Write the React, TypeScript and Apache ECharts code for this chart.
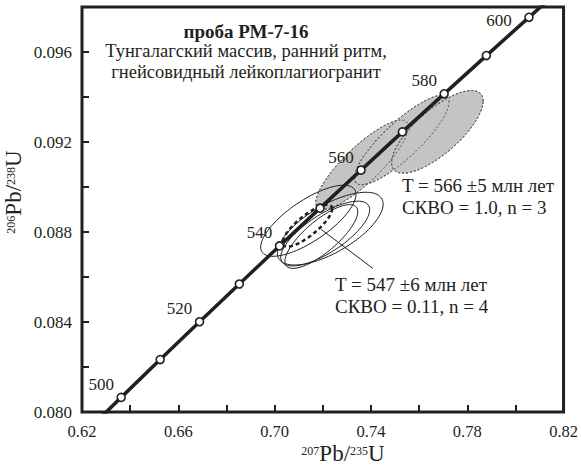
import React, { useEffect, useRef } from 'react';
import * as echarts from 'echarts';

// Concordia curve, points every 10 Ma
const concordiaAges = [490, 500, 510, 520, 530, 540, 550, 560, 570, 580, 590, 600, 610];
const concordiaX = [0.62024, 0.63628, 0.65247, 0.66883, 0.68535, 0.70203, 0.71887, 0.73588, 0.75306, 0.77041, 0.78794, 0.80563, 0.8235];
const concordiaY = [0.07897, 0.08065, 0.08233, 0.08401, 0.08569, 0.08738, 0.08906, 0.09075, 0.09245, 0.09414, 0.09584, 0.09754, 0.09925];
const labeledAges = [500, 520, 540, 560, 580, 600];

// error ellipses: [x, y, sigmaX, sigmaY, rho]
const greyEllipses = [
  [0.7363, 0.09099, 0.01918, 0.001985, 0.844],
  [0.7528, 0.09209, 0.01967, 0.001989, 0.848],
  [0.7676, 0.09245, 0.01901, 0.001838, 0.746],
];
const openEllipses = [
  [0.714, 0.0885, 0.01979, 0.00158, 0.74],
  [0.7231, 0.08815, 0.02198, 0.001617, 0.673],
  [0.721, 0.08793, 0.01847, 0.00144, 0.735],
  [0.7194, 0.0878, 0.01513, 0.001418, 0.78],
];
const meanEllipse = [[0.7136, 0.08828, 0.01027, 0.00093, 0.805]];

// leader line for the 547 Ma label
const leaderX = [0.74082, 0.71938];
const leaderY = [0.08638, 0.08811];

const xMin = 0.62, xMax = 0.82, xStep = 0.02;
const yMin = 0.08, yMax = 0.098, yStep = 0.002;

const titleLines = ['проба РМ-7-16', 'Тунгалагский массив, ранний ритм,', 'гнейсовидный лейкоплагиогранит'];
const age566 = ['T = 566 ±5 млн лет', 'СКВО = 1.0, n = 3'];
const age547 = ['T = 547 ±6 млн лет', 'СКВО = 0.11, n = 4'];

const SERIF = "'Liberation Serif', 'Times New Roman', serif";
const INK = '#231f20';

function ellipseRenderer(style: any) {
  return (params: any, api: any) => {
    const cx = api.value(0), cy = api.value(1), sx = api.value(2), sy = api.value(3), r = api.value(4);
    const pts: number[][] = [];
    const n = 90;
    for (let i = 0; i < n; i++) {
      const t = (i / n) * Math.PI * 2;
      const x = cx + sx * Math.cos(t);
      const y = cy + sy * (r * Math.cos(t) + Math.sqrt(1 - r * r) * Math.sin(t));
      pts.push(api.coord([x, y]));
    }
    return { type: 'polygon', shape: { points: pts }, style };
  };
}

function txt(x: number, y: number, text: string, size: number, align: string, bold = false) {
  return {
    type: 'text', x, y,
    style: {
      text, fontSize: size, fontWeight: bold ? 'bold' : 'normal', fontFamily: SERIF, fill: INK,
      align, verticalAlign: 'middle', textAlign: align, textVerticalAlign: 'middle',
    },
  };
}

export default function App() {
  const ref = useRef<HTMLDivElement>(null);
  useEffect(() => {
    if (!ref.current) return;
    const chart = echarts.init(ref.current, undefined, { renderer: 'svg' });
    const curve = concordiaAges.map((a, i) => [concordiaX[i], concordiaY[i]]);
    const markers = concordiaAges
      .map((a, i) => ({ a, v: [concordiaX[i], concordiaY[i]] }))
      .filter((d) => d.a >= 500 && d.a <= 600)
      .map((d) => ({
        value: d.v,
        label: {
          show: labeledAges.includes(d.a),
          formatter: String(d.a),
          offset: d.a === 600 ? [-30, 3] : [-20, -13],
        },
      }));
    const supRich = {
      sup: { fontSize: 12, fontFamily: SERIF, verticalAlign: 'top', fill: INK, color: INK, lineHeight: 20 },
      main: { fontSize: 23, fontFamily: SERIF, verticalAlign: 'bottom', fill: INK, color: INK, lineHeight: 20 },
    };
    const option: any = {
      animation: false,
      grid: { left: 82, right: 14, top: 7, bottom: 60, show: true, borderColor: INK, borderWidth: 3, backgroundColor: 'transparent' },
      xAxis: {
        type: 'value', min: xMin, max: xMax, interval: xStep,
        axisLine: { show: false },
        axisTick: { show: true, inside: true, length: 7, lineStyle: { color: INK, width: 2 } },
        splitLine: { show: false },
        axisLabel: {
          color: INK, fontFamily: SERIF, fontSize: 16.5, margin: 11,
          formatter: (v: number) => (Math.round(v * 100) % 4 === 2 ? v.toFixed(2) : ''),
        },
      },
      yAxis: {
        type: 'value', min: yMin, max: yMax, interval: yStep,
        axisLine: { show: false },
        axisTick: { show: true, inside: true, length: 7, lineStyle: { color: INK, width: 2 } },
        splitLine: { show: false },
        axisLabel: {
          color: INK, fontFamily: SERIF, fontSize: 17, margin: 10,
          formatter: (v: number) => (Math.round(v * 1000) % 4 === 0 ? v.toFixed(3) : ''),
        },
      },
      graphic: [
        txt(246, 31, titleLines[0], 19, 'center', true),
        txt(246, 51, titleLines[1], 18.5, 'center'),
        txt(246, 72, titleLines[2], 18.5, 'center'),
        txt(402, 185, age566[0], 19, 'left'),
        txt(402, 207, age566[1], 19, 'left'),
        txt(335, 284, age547[0], 19, 'left'),
        txt(335, 306, age547[1], 19, 'left'),
        { type: 'text', x: 343, y: 455, style: { text: '{sup|207}{main|Pb/}{sup|235}{main|U}', rich: supRich, align: 'center', verticalAlign: 'middle', textAlign: 'center', textVerticalAlign: 'middle', fill: INK } },
        { type: 'text', x: 15, y: 192, rotation: Math.PI / 2, style: { text: '{sup|206}{main|Pb/}{sup|238}{main|U}', rich: supRich, align: 'center', verticalAlign: 'middle', textAlign: 'center', textVerticalAlign: 'middle', fill: INK } },
      ],
      series: [
        {
          type: 'custom', z: 1, data: greyEllipses, encode: { x: 0, y: 1 },
          renderItem: ellipseRenderer({ fill: '#c4c4c4', stroke: '#555', lineWidth: 1, lineDash: [2, 2] }),
        },
        {
          type: 'custom', z: 1.5, data: greyEllipses, encode: { x: 0, y: 1 },
          renderItem: ellipseRenderer({ fill: 'none', stroke: '#555', lineWidth: 1, lineDash: [2, 2] }),
        },
        {
          type: 'line', z: 2, data: curve, showSymbol: false, symbol: 'none', clip: true,
          lineStyle: { color: INK, width: 3.5 },
        },
        {
          type: 'custom', z: 3, data: openEllipses, encode: { x: 0, y: 1 },
          renderItem: ellipseRenderer({ fill: 'none', stroke: INK, lineWidth: 1 }),
        },
        {
          type: 'custom', z: 3, data: meanEllipse, encode: { x: 0, y: 1 },
          renderItem: ellipseRenderer({ fill: 'none', stroke: INK, lineWidth: 2.5, lineDash: [4, 3] }),
        },
        {
          type: 'line', z: 3, data: leaderX.map((x, i) => [x, leaderY[i]]), symbol: 'none',
          lineStyle: { color: INK, width: 1 },
        },
        {
          type: 'scatter', z: 4, data: markers, symbol: 'circle', symbolSize: 8,
          itemStyle: { color: '#fff', borderColor: INK, borderWidth: 1.6, opacity: 1 },
          label: { show: false, position: 'inside', color: INK, fontFamily: SERIF, fontSize: 17 },
          emphasis: { disabled: true },
        },
      ],
    };
    chart.setOption(option);
    return () => chart.dispose();
  }, []);
  return <div ref={ref} style={{ position: 'fixed', left: 0, top: 0, width: 581, height: 472, background: '#fff' }} />;
}
